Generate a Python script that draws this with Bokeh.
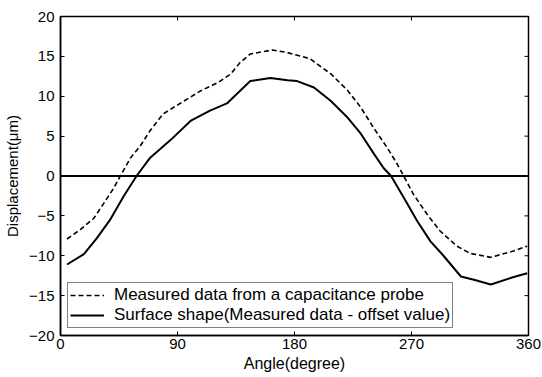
import math
from bokeh.plotting import figure
from bokeh.models import FixedTicker, Span, Legend, LegendItem
from bokeh.embed import file_html
from bokeh.resources import INLINE

# Data
meas_x = [5, 15.4, 25.6, 33, 41, 46, 54, 61.5, 69, 79, 95, 108, 121, 131, 138, 146, 163, 174, 192, 208, 221, 231, 241, 251.5, 259, 264, 271.5, 282, 292, 305, 315, 331, 348.5, 359]
meas_y = [-7.9, -6.7, -5.3, -3.5, -1.5, 0.0, 2.3, 3.8, 5.7, 7.8, 9.4, 10.7, 11.7, 12.8, 14.2, 15.3, 15.8, 15.5, 14.7, 12.8, 10.7, 8.6, 6.0, 3.5, 1.5, 0.0, -2.3, -4.8, -6.9, -8.8, -9.7, -10.2, -9.4, -8.8]
surf_x = [5, 18, 28, 38.5, 48.7, 58.5, 69, 84.6, 100, 115, 128, 146, 161.5, 174.6, 182, 195, 208, 221, 231, 241, 248.5, 254.3, 264, 274.6, 284.6, 294.6, 308, 318, 331, 346, 359]
surf_y = [-11.1, -9.8, -7.8, -5.4, -2.5, 0.0, 2.3, 4.5, 6.9, 8.2, 9.1, 11.9, 12.3, 12.0, 11.9, 11.1, 9.4, 7.3, 5.3, 2.8, 1.0, 0.0, -2.7, -5.7, -8.2, -10.0, -12.6, -13.0, -13.6, -12.8, -12.2]
x_ticks = [0, 90, 180, 270, 360]
y_ticks = [-20, -15, -10, -5, 0, 5, 10, 15, 20]
legend_labels = ["Measured data from a capacitance probe", "Surface shape(Measured data - offset value)"]

FONT = "Liberation Sans"
X0, X1, Y0, Y1 = 0, 360, -20, 20

p = figure(width=542, height=377, x_range=(X0, X1), y_range=(Y0, Y1),
           output_backend="svg", toolbar_location=None,
           min_border_left=60, min_border_right=14, min_border_top=16, min_border_bottom=42)
p.xgrid.visible = False
p.ygrid.visible = False
p.outline_line_color = "black"
p.outline_line_width = 1.5
p.background_fill_color = "white"
p.border_fill_color = "white"

for ax in (p.xaxis[0], p.yaxis[0]):
    ax.axis_line_color = "black"
    ax.axis_line_width = 1.5
    ax.major_tick_in = 4
    ax.major_tick_out = 0
    ax.minor_tick_line_color = None
    ax.major_tick_line_color = "black"
    ax.major_tick_line_width = 1
    ax.major_label_text_font = FONT
    ax.major_label_text_font_size = "15px"
    ax.major_label_text_color = "black"
    ax.axis_label_text_font = FONT
    ax.axis_label_text_font_style = "normal"
    ax.axis_label_text_color = "black"

p.xaxis.ticker = FixedTicker(ticks=x_ticks)
p.yaxis.ticker = FixedTicker(ticks=y_ticks)
p.xaxis.axis_label = "Angle(degree)"
p.yaxis.axis_label = "Displacement(μm)"
p.xaxis.axis_label_text_font_size = "16px"
p.yaxis.axis_label_text_font_size = "15px"
p.xaxis.major_label_standoff = 3
p.yaxis.major_label_standoff = 6
p.xaxis.axis_label_standoff = 3
p.yaxis.axis_label_standoff = 5

# inward ticks on the top and right frame edges (4 px, screen units)
p.ray(x=x_ticks, y=[Y1] * len(x_ticks), length=4, length_units="screen",
      angle=-math.pi / 2, line_color="black", line_width=1)
p.ray(x=[X1] * len(y_ticks), y=y_ticks, length=4, length_units="screen",
      angle=math.pi, line_color="black", line_width=1)

p.add_layout(Span(location=0, dimension="width", line_color="black", line_width=1.8))

r1 = p.line(meas_x, meas_y, line_color="black", line_width=1.6, line_dash="5 3")
r2 = p.line(surf_x, surf_y, line_color="black", line_width=2)

legend = Legend(items=[LegendItem(label=legend_labels[0], renderers=[r1]),
                       LegendItem(label=legend_labels[1], renderers=[r2])],
                location=(7, 7))
legend.label_text_font = FONT
legend.label_text_font_size = "17px"
legend.label_text_line_height = 1.0
legend.label_text_color = "black"
legend.glyph_width = 34
legend.glyph_height = 14
legend.label_height = 14
legend.spacing = 0
legend.padding = 2
legend.margin = 0
legend.label_standoff = 10
legend.border_line_color = "black"
legend.border_line_width = 1
legend.background_fill_alpha = 1
p.add_layout(legend, "center")

open("out.html", "w").write(file_html(p, INLINE))
